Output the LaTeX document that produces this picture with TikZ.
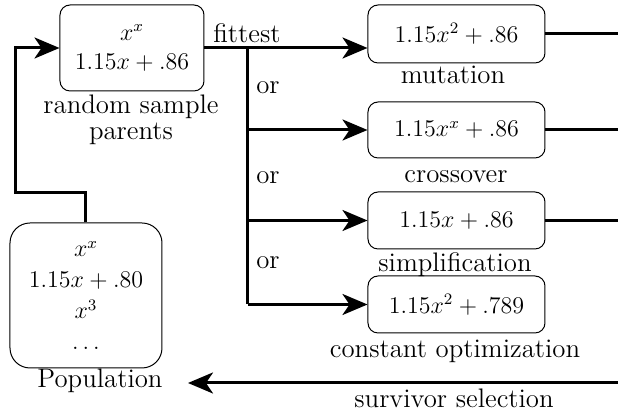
\documentclass[tikz,border=0pt]{standalone}
\usetikzlibrary{arrows.meta}

\tikzset{
  box/.style={draw, line width=0.5pt, rounded corners=5pt, align=center,
    font=\fontsize{12}{14.5}\selectfont},
  link/.style={line width=1.5pt},
  tip/.style={-{Stealth[length=12.5pt,width=10.5pt,inset=3.5pt]}},
  lbl/.style={font=\fontsize{13.4}{13}\selectfont, align=center, inner sep=0pt}
}

\begin{document}
\begin{tikzpicture}[x=0.5pt, y=-0.5pt]
\useasboundingbox (0,0) rectangle (618,410);

% boxes
\node[box, minimum width=72pt, minimum height=43pt] (parents) at (132,48)
  {$x^x$\\$1.15x+.86$};
\node[box, minimum width=76pt, minimum height=72.5pt, rounded corners=10pt,
  font=\fontsize{12}{15.5}\selectfont] (population) at (86,295.5)
  {$x^x$\\$1.15x+.80$\\$x^3$\\$\dots$};
\node[box, minimum width=88.5pt, minimum height=29pt] (mutation) at (456.5,34) {$1.15x^2+.86$};
\node[box, minimum width=88.5pt, minimum height=28pt] (crossover) at (456.5,130) {$1.15x^x+.86$};
\node[box, minimum width=88.5pt, minimum height=28.5pt] (simplify) at (456.5,220.5) {$1.15x+.86$};
\node[box, minimum width=88.5pt, minimum height=28.5pt] (constopt) at (456.5,304.5) {$1.15x^2+.789$};

% labels
\node[lbl] (fittestlbl) at (247,33) {fittest};
\node[lbl] (or1) at (268,88) {or};
\node[lbl] (or2) at (268,178) {or};
\node[lbl] (or3) at (268,263) {or};
\node[lbl] (parentslbl) at (131,120) {random sample\\parents};
\node[lbl] (mutationlbl) at (453,75) {mutation};
\node[lbl] (crossoverlbl) at (456,177) {crossover};
\node[lbl] (simplifylbl) at (455,265) {simplification};
\node[lbl] (constoptlbl) at (455,351) {constant optimization};
\node[lbl] (survivorlbl) at (454,398) {survivor selection};
\node[lbl] (populationlbl) at (100,381) {Population};

\coordinate (split) at (248,48);
\coordinate (rEdge) at (618,0);
\coordinate (retStart) at (618,383);
\coordinate (retEnd) at (188,383);

% connectors
\draw[link,tip] (population.north) -- ++(0,-30) -- ++(-70,0) |- (parents.west);
\draw[link] (parents.east) -- (split);
\draw[link,tip] (split) -- (split -| mutation.west);
\draw[link] (split) -- (split |- constopt.west);
\draw[link,tip] (split |- crossover.west) -- (crossover.west);
\draw[link,tip] (split |- simplify.west) -- (simplify.west);
\draw[link,tip] (split |- constopt.west) -- (constopt.west);
\draw[link] (mutation.east) -- (mutation.east -| rEdge);
\draw[link] (crossover.east) -- (crossover.east -| rEdge);
\draw[link] (simplify.east) -- (simplify.east -| rEdge);
\draw[link,tip] (retStart) -- (retEnd);

\end{tikzpicture}
\end{document}
